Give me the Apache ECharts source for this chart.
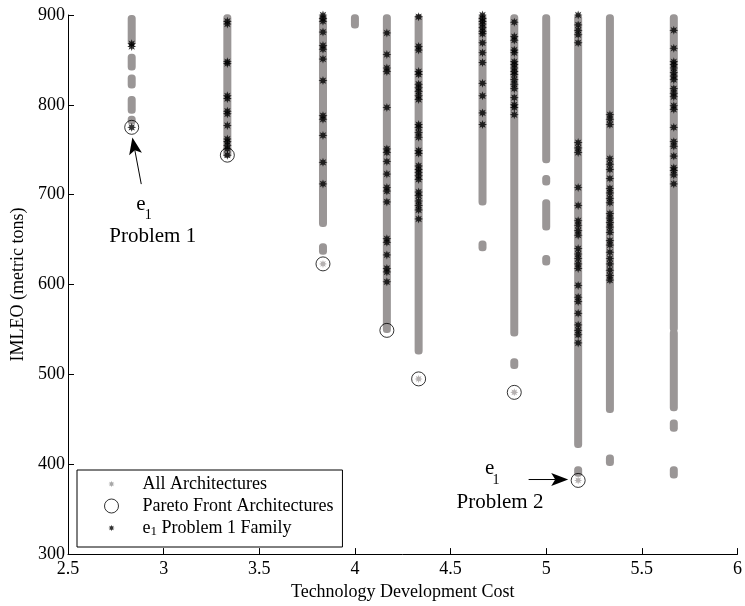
<!DOCTYPE html>
<html><head><meta charset="utf-8">
<script src="https://cdn.jsdelivr.net/npm/echarts@6/dist/echarts.min.js"></script>
<style>html,body{margin:0;padding:0;background:#fff}#c{width:745px;height:606px}</style>
</head><body><div id="c"></div>
<script>
// ---------------- data ----------------
const xName = 'Technology Development Cost';
const yName = 'IMLEO (metric tons)';
const legendNames = ['All Architectures', 'Pareto Front Architectures', 'e1 Problem 1 Family'];

// All architectures: dense vertical bands [x, top, bottom]
const grayBands = [
  [2.833, 896, 870], [2.833, 853, 842], [2.833, 830, 822], [2.833, 806, 794], [2.833, 784, 782],
  [3.333, 897, 745],
  [3.833, 897, 668], [3.833, 642, 637],
  [4.0, 897, 889],
  [4.167, 897, 550],
  [4.333, 897, 526],
  [4.667, 897, 692], [4.667, 645, 641],
  [4.833, 897, 546], [4.833, 514, 510],
  [5.0, 897, 739], [5.0, 718, 714], [5.0, 691, 664], [5.0, 629, 625],
  [5.167, 897, 422], [5.167, 394, 390],
  [5.333, 897, 461], [5.333, 407, 402],
  [5.667, 897, 551], [5.667, 546, 463], [5.667, 446, 440], [5.667, 394, 388]
];
// All architectures: isolated points
const grayPoints = [[3.833, 623], [4.333, 495], [4.833, 480], [5.167, 382]];

// e1 Problem 1 family: [x, [IMLEO values]]
const family = [
  [2.833, [868, 865, 775]],
  [3.333, [893, 890, 848, 846, 810, 807, 793, 790, 777, 762, 759, 755, 751, 744]],
  [3.833, [900, 896, 893, 881, 866, 862, 851, 827, 788, 784, 766, 736, 712]],
  [4.167, [880, 856, 841, 837, 797, 751, 747, 737, 723, 708, 704, 692, 651, 647, 633, 618, 614, 603]],
  [4.333, [898, 865, 861, 837, 834, 823, 819, 815, 810, 806, 778, 775, 769, 764, 749, 746, 732, 728, 725, 721, 717, 703, 699, 693, 688, 683, 673]],
  [4.667, [900, 896, 893, 890, 886, 882, 879, 869, 858, 847, 824, 810, 791, 778]],
  [4.833, [892, 876, 872, 861, 858, 848, 845, 841, 837, 834, 828, 823, 818, 808, 800, 797, 789]],
  [5.167, [900, 889, 883, 878, 869, 758, 752, 747, 708, 688, 671, 666, 660, 655, 640, 634, 629, 623, 618, 599, 586, 581, 568, 555, 549, 544, 535]],
  [5.333, [789, 784, 778, 740, 734, 728, 718, 707, 702, 696, 691, 679, 674, 669, 664, 658, 649, 644, 636, 629, 623, 616, 610, 605]],
  [5.667, [883, 863, 848, 845, 841, 836, 832, 828, 818, 813, 809, 799, 795, 775, 759, 754, 743, 730, 727, 722, 712]]
];

// Pareto front
const paretoPoints = [[2.833, 775], [3.333, 744], [3.833, 623], [4.167, 549], [4.333, 495], [4.833, 480], [5.167, 382]];

// Annotations [x, y, text, fontSize]
const annotationTexts = [
  [2.881, 688.6, 'e', 21], [2.919, 677.5, '1', 14], [2.943, 653.7, 'Problem 1', 21],
  [4.704, 395.2, 'e', 21], [4.737, 381.9, '1', 14], [4.758, 357.6, 'Problem 2', 21]
];
// Arrows [tailX, tailY, tipX, tipY]
const arrows = [[2.883, 711.8, 2.8366, 763.8], [4.908, 383, 5.115, 383]];

// ---------------- styles ----------------
const F = '"Liberation Serif", "Times New Roman", serif';
const GRAY = '#9a9696';
function asterisk(pad) {
  let d = '';
  for (let k = 0; k < 8; k++) {
    const a = k * Math.PI / 4, b = a + Math.PI / 8;
    d += (k === 0 ? 'M' : 'L') + Math.cos(a).toFixed(3) + ' ' + Math.sin(a).toFixed(3) +
      ' L' + (0.5 * Math.cos(b)).toFixed(3) + ' ' + (0.5 * Math.sin(b)).toFixed(3) + ' ';
  }
  d += 'Z';
  if (pad) d = 'M' + (-pad) + ' ' + (-pad) + ' L' + (-pad) + ' ' + (-pad) + ' M' + pad + ' ' + pad + ' L' + pad + ' ' + pad + ' ' + d;
  return 'path://' + d;
}
const STAR = asterisk(0);
const LEGEND_STAR = asterisk(2.2);

const familyData = family.flatMap(([x, ys]) => ys.map(y => [x, y]));

const chart = echarts.init(document.getElementById('c'), null, { renderer: 'canvas' });
const axisCommon = {
  axisLine: { show: true, onZero: false, lineStyle: { color: '#000', width: 1 } },
  axisTick: { show: true, inside: true, length: 6, lineStyle: { color: '#000', width: 1 } },
  splitLine: { show: false },
  nameTextStyle: { fontFamily: F, fontSize: 18, color: '#000' }
};
chart.setOption({
  animation: false,
  grid: { left: 68, right: 1, top: 15, bottom: 49, containLabel: false },
  xAxis: Object.assign({
    type: 'value', min: 2.5, max: 6, interval: 0.5,
    name: xName, nameLocation: 'middle', nameGap: 28,
    axisLabel: { fontFamily: F, fontSize: 18, color: '#000', margin: 6 }
  }, axisCommon),
  yAxis: Object.assign({
    type: 'value', min: 300, max: 900, interval: 100,
    name: yName, nameLocation: 'middle', nameGap: 41,
    axisLabel: { fontFamily: F, fontSize: 18, color: '#000', margin: 3 }
  }, axisCommon),
  legend: {
    left: 77, top: 470, orient: 'vertical', selectedMode: false,
    padding: [4, 9, 9, 27], itemGap: 2, itemWidth: 52, itemHeight: 14,
    borderColor: '#000', borderWidth: 1, backgroundColor: '#fff', borderRadius: 0,
    textStyle: {
      fontFamily: F, fontSize: 18, color: '#000', lineHeight: 20,
      rich: {
        n: { fontFamily: F, fontSize: 18, lineHeight: 20, color: '#000' },
        s: { fontFamily: F, fontSize: 13, lineHeight: 5, verticalAlign: 'bottom', color: '#000' }
      }
    },
    formatter: name => name.indexOf('e1') === 0 ? '{n|e}{s|1}{n|' + name.slice(2) + '}' : '{n|' + name + '}',
    data: [
      { name: legendNames[0], icon: LEGEND_STAR, itemStyle: { color: '#a8a8a8', borderWidth: 0 } },
      { name: legendNames[1], icon: 'circle', itemStyle: { color: 'rgba(0,0,0,0)', borderColor: '#000', borderWidth: 1 } },
      { name: legendNames[2], icon: LEGEND_STAR, itemStyle: { color: '#000', borderWidth: 0 } }
    ]
  },
  series: [
    {
      name: legendNames[0], type: 'custom', z: 1, silent: true,
      itemStyle: { color: GRAY },
      encode: { x: 0, y: [1, 2] },
      data: grayBands,
      renderItem(params, api) {
        const x = api.value(0);
        const p1 = api.coord([x, api.value(1)]), p2 = api.coord([x, api.value(2)]);
        const w = 8, pad = 3.5;
        return { type: 'rect', shape: { x: p1[0] - w / 2, y: p1[1] - pad, width: w, height: p2[1] - p1[1] + 2 * pad, r: 3.5 }, style: { fill: GRAY } };
      }
    },
    {
      name: legendNames[0], type: 'scatter', z: 2, silent: true,
      symbol: STAR, symbolSize: 8, itemStyle: { color: '#a29e9e' },
      data: grayPoints
    },
    {
      name: legendNames[2], type: 'scatter', z: 3, silent: true,
      symbol: STAR, symbolSize: 9, itemStyle: { color: '#000' },
      data: familyData
    },
    {
      name: legendNames[1], type: 'scatter', z: 4, silent: true,
      symbol: 'circle', symbolSize: 14,
      itemStyle: { color: 'rgba(0,0,0,0)', borderColor: '#000', borderWidth: 1 },
      data: paretoPoints
    },
    {
      name: 'arrows', type: 'custom', z: 5, silent: true,
      data: arrows.map(a => [a[0], a[1], a[2], a[3]]),
      encode: { x: [0, 2], y: [1, 3] },
      renderItem(params, api) {
        const p1 = api.coord([api.value(0), api.value(1)]);
        const p2 = api.coord([api.value(2), api.value(3)]);
        const dx = p2[0] - p1[0], dy = p2[1] - p1[1], len = Math.hypot(dx, dy);
        const ux = dx / len, uy = dy / len, nx = -uy, ny = ux;
        const L = 17, W = 6.5, N = 4;
        const bx = p2[0] - ux * L, by = p2[1] - uy * L;
        const notch = [p2[0] - ux * (L - N), p2[1] - uy * (L - N)];
        return {
          type: 'group', children: [
            { type: 'line', shape: { x1: p1[0], y1: p1[1], x2: notch[0], y2: notch[1] }, style: { stroke: '#000', lineWidth: 1 } },
            { type: 'polygon', shape: { points: [p2, [bx + nx * W, by + ny * W], notch, [bx - nx * W, by - ny * W]] }, style: { fill: '#000' } }
          ]
        };
      }
    },
    {
      name: 'annotations', type: 'custom', z: 6, silent: true,
      data: annotationTexts.map(a => [a[0], a[1]]),
      encode: { x: 0, y: 1 },
      renderItem(params, api) {
        const a = annotationTexts[params.dataIndex];
        const p = api.coord([api.value(0), api.value(1)]);
        return {
          type: 'text', x: p[0], y: p[1],
          style: { text: a[2], fontFamily: F, fontSize: a[3], fill: '#000', align: 'center', verticalAlign: 'middle', textAlign: 'center', textVerticalAlign: 'middle' }
        };
      }
    }
  ]
});
</script>
</body></html>
